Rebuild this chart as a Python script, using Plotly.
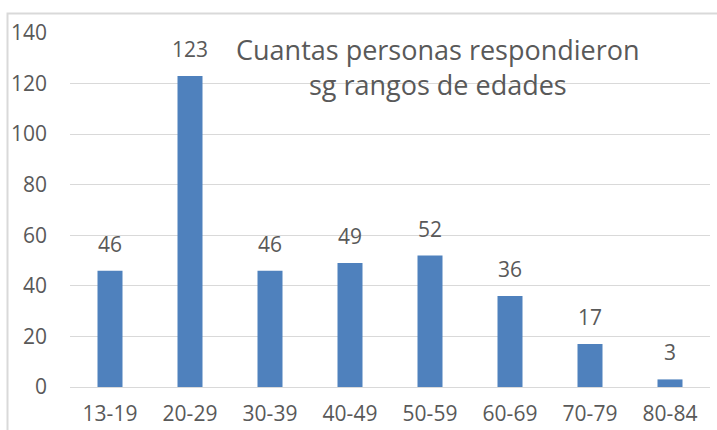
import plotly.graph_objects as go

categories = ["13-19", "20-29", "30-39", "40-49", "50-59", "60-69", "70-79", "80-84"]
values = [46, 123, 46, 49, 52, 36, 17, 3]
y_ticks = [0, 20, 40, 60, 80, 100, 120, 140]
title_lines = ["Cuantas personas respondieron", "sg rangos de edades"]

W, H = 717, 430
L, R, T, B = 70, 7, 33, 43
pw, ph = W - L - R, H - T - B

def px_x(x):
    return (x - L) / pw

def px_y(y):
    return 1 - (y - T) / ph

FONT = "Open Sans, Liberation Sans, sans-serif"
TXT = "#595959"

fig = go.Figure(go.Bar(
    x=categories, y=values,
    marker=dict(color="#4F81BD", line=dict(width=0)),
    cliponaxis=False,
))

label_annotations = [
    dict(x=c, y=v, xref="x", yref="y", text=str(v), showarrow=False,
         xanchor="center", yanchor="bottom", yshift=11,
         font=dict(family=FONT, size=21, color=TXT))
    for c, v in zip(categories, values)
]

fig.update_layout(
    width=W, height=H,
    margin=dict(l=L, r=R, t=T, b=B),
    paper_bgcolor="white", plot_bgcolor="white",
    bargap=0.6875,
    showlegend=False,
    xaxis=dict(showgrid=False, showline=False, ticks="", ticklabelstandoff=12,
               automargin=False,
               tickfont=dict(family=FONT, size=21, color=TXT)),
    yaxis=dict(range=[0, 140], tickvals=y_ticks, showgrid=True,
               gridcolor="#D9D9D9", gridwidth=1, zeroline=True,
               zerolinecolor="#D9D9D9", zerolinewidth=1,
               ticks="", ticklabelstandoff=22, automargin=False,
               tickfont=dict(family=FONT, size=21, color=TXT)),
    shapes=[dict(type="rect", xref="paper", yref="paper",
                 x0=px_x(7.5), x1=px_x(730), y0=px_y(445), y1=px_y(13.5),
                 line=dict(color="#D9D9D9", width=2), fillcolor="rgba(0,0,0,0)",
                 layer="below")],
    annotations=label_annotations + [
        dict(text="<br>".join(title_lines), xref="paper", yref="paper",
             x=px_x(438), y=px_y(67), xanchor="center", yanchor="middle",
             showarrow=False, align="center",
             font=dict(family=FONT, size=27, color=TXT),
             bgcolor="rgba(0,0,0,0)")],
)

fig.write_html("out.html", config={"displayModeBar": False},
               post_script="document.body.style.margin='0';")
